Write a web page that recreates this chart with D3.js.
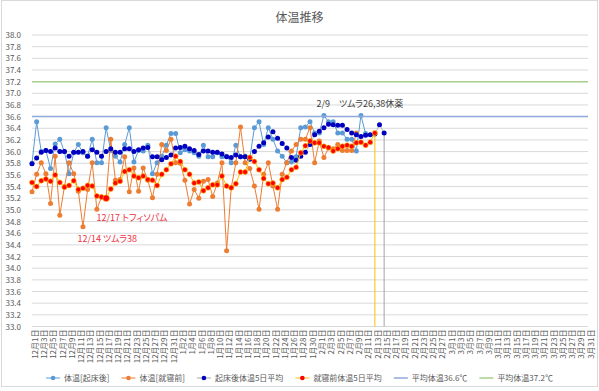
<!DOCTYPE html>
<html><head><meta charset="utf-8">
<script src="https://cdn.jsdelivr.net/npm/d3@7"></script>
<style>
body{margin:0;background:#fff;}
svg text{font-family:"Noto Sans CJK JP","Noto Sans",sans-serif;}
.palt{font-feature-settings:"palt";}
</style></head><body>
<svg id="c" width="599" height="391"></svg>
<script>
// ---------- data ----------
const chartTitle = "体温推移";
const monthLabels = ["12月","1月","2月","3月"];
const monthDays = [31,31,28,31];
const dates = monthLabels.flatMap((m,k)=>d3.range(1,monthDays[k]+1).map(d=>m+d+"日"));
const yTickLabels = ["33.0","33.2","33.4","33.6","33.8","34.0","34.2","34.4","34.6","34.8",
  "35.0","35.2","35.4","35.6","35.8","36.0","36.2","36.4","36.6","36.8",
  "37.0","37.2","37.4","37.6","37.8","38.0"];
const seriesNames = ["体温[起床後]","体温[就寝前]","起床後体温5日平均","就寝前体温5日平均","平均体温36.6℃","平均体温37.2℃"];

const wakeTemp = [35.80,36.51,36.00,36.02,35.71,36.13,36.21,36.00,35.62,35.98,
 36.12,35.98,35.92,36.21,35.81,35.81,36.41,36.02,35.92,35.82,
 36.12,36.41,35.82,36.02,36.01,36.11,35.62,35.81,35.92,36.11,
 36.31,36.31,35.98,36.03,36.01,35.98,35.92,36.11,35.91,35.91,
 35.98,35.91,35.92,35.81,36.11,35.91,35.92,35.88,36.41,36.51,
 36.12,36.41,36.21,36.01,35.92,35.81,35.82,35.91,36.41,36.42,
 36.51,36.32,36.32,36.62,36.51,36.51,36.32,36.32,36.21,36.21,
 36.01,36.62,36.31];
const bedTemp = [35.31,35.61,35.81,35.62,35.11,35.92,34.91,35.40,35.81,35.62,
 35.32,34.71,35.35,35.81,35.01,35.22,35.21,36.21,35.51,35.52,
 35.91,35.31,35.72,35.32,35.72,35.51,35.21,35.61,36.12,36.02,
 36.21,35.81,35.80,35.51,35.10,35.35,35.20,35.49,35.52,35.23,
 35.46,35.81,34.30,35.38,35.81,36.42,35.81,35.71,35.41,35.01,
 35.61,35.81,35.41,35.01,35.61,35.81,36.01,36.12,36.21,36.21,
 36.41,35.81,36.18,35.90,36.06,36.05,36.12,36.02,36.02,36.02,
 36.32];
const wakeAvg5 = [35.79,35.89,35.99,36.02,36.00,36.06,36.00,36.00,35.92,35.99,
 35.99,36.00,35.92,36.03,35.99,35.92,36.00,36.05,35.99,35.99,
 36.05,36.05,36.00,36.03,36.06,36.07,35.91,35.91,35.86,35.90,
 35.94,36.06,36.07,36.09,36.05,36.02,35.95,36.01,36.01,35.99,
 35.99,35.96,35.91,35.90,35.94,35.91,35.91,35.87,36.00,36.09,
 36.15,36.25,36.34,36.23,36.14,36.06,35.90,35.85,35.92,35.99,
 36.12,36.29,36.35,36.41,36.47,36.46,36.45,36.45,36.38,36.32,
 36.29,36.26,36.28,36.29,36.30,36.46,36.32];
const bedAvg5 = [35.47,35.40,35.50,35.53,35.49,35.60,35.47,35.39,35.42,35.50,
 35.35,35.37,35.42,35.41,35.24,35.22,35.20,35.36,35.46,35.49,
 35.66,35.69,35.58,35.55,35.58,35.52,35.51,35.42,35.61,35.69,
 35.79,35.92,35.83,35.69,35.61,35.46,35.48,35.33,35.38,35.43,
 35.43,35.58,35.41,35.38,35.45,35.65,35.65,35.90,35.83,35.69,
 35.54,35.45,35.46,35.38,35.52,35.56,35.69,35.73,35.98,36.10,
 36.18,36.15,36.15,36.09,36.07,36.01,36.05,36.09,36.11,36.09,
 36.15,36.16,36.11,36.16,36.32];
const refTemps = [36.6, 37.2];
const highlightDates = ["12月17日"];
const notes = [
  {text:"2/9　ツムラ26,38休薬", color:"#404040"},
  {text:"12/17 トフィソパム", color:"#ee3344"},
  {text:"12/14 ツムラ38", color:"#ee3344"}
];

// ---------- layout / style ----------
const W=599,H=391;
const L=32,R=588,T=35,B=326.5;
const colors = {wake:"#5B9BD5", bed:"#ED7D31", wakeAvgLine:"#A5A5A5", wakeAvgMark:"#0000C0",
  bedAvgLine:"#FFC000", bedAvgMark:"#FF0000", ref1:"#8FAADC", ref2:"#A9CF8E", text:"#595959", grid:"#D9D9D9"};

const svg = d3.select("#c");
svg.append("rect").attr("x",1.5).attr("y",0.5).attr("width",596).attr("height",386)
  .attr("fill","#fff").attr("stroke","#D9D9D9");

const x = d3.scalePoint().domain(dates).range([L,R]);
const y = d3.scaleLinear().domain([33,38]).range([B,T]);

// grid
svg.append("g").selectAll("line").data(yTickLabels).join("line")
  .attr("x1",L).attr("x2",R).attr("y1",d=>y(+d)).attr("y2",d=>y(+d))
  .attr("stroke",colors.grid).attr("stroke-width",1);

// y axis labels
const yAxis = d3.axisLeft(y).tickValues(yTickLabels.map(Number)).tickFormat(d3.format(".1f")).tickSize(0).tickPadding(11);
const gy = svg.append("g").attr("transform",`translate(${L},0)`).call(yAxis);
gy.select(".domain").remove();
gy.selectAll("text").attr("fill",colors.text).style("font-size","8px").attr("font-family",null);

// x axis labels
const xAxis = d3.axisBottom(x).tickValues(dates.filter((d,i)=>i%2===0)).tickSize(0);
const gx = svg.append("g").attr("transform",`translate(0,${B})`).call(xAxis);
gx.select(".domain").remove();
gx.selectAll("text").attr("fill",colors.text).style("font-size","8px").attr("font-family",null)
  .attr("transform","rotate(-90)").attr("text-anchor","end").attr("x",-3).attr("y",2.4).attr("dy","0.35em");

// series
const line = d3.line().x((d,i)=>x(dates[i])).y(d=>y(d));
function drawSeries(vals, lineColor, markColor, r, lw, markStroke){
  const g = svg.append("g");
  g.append("path").attr("d",line(vals)).attr("fill","none").attr("stroke",lineColor).attr("stroke-width",lw);
  g.selectAll("circle").data(vals).join("circle")
    .attr("cx",(d,i)=>x(dates[i])).attr("cy",d=>y(d))
    .attr("r",(d,i)=> highlightDates.includes(dates[i]) && markColor===colors.bedAvgMark ? 3.3 : r)
    .attr("fill",markColor).attr("stroke",markStroke||"none").attr("stroke-width",0.6);
  return g;
}
drawSeries(wakeTemp, colors.wake, colors.wake, 2.5, 1);
drawSeries(bedTemp, colors.bed, colors.bed, 2.5, 1);
// drop lines at the end of the average series
function dropLine(vals,color){
  const i = vals.length-1;
  svg.append("line").attr("x1",x(dates[i])).attr("x2",x(dates[i])).attr("y1",y(vals[i])).attr("y2",y(33))
    .attr("stroke",color).attr("stroke-width",1);
}
dropLine(wakeAvg5, colors.wakeAvgLine);
drawSeries(wakeAvg5, colors.wakeAvgLine, colors.wakeAvgMark, 2.5, 0.8);
dropLine(bedAvg5, colors.bedAvgLine);
drawSeries(bedAvg5, colors.bedAvgLine, colors.bedAvgMark, 2.5, 1, colors.bedAvgLine);

// reference lines
[colors.ref1, colors.ref2].forEach((c,k)=>{
  svg.append("line").attr("x1",x(dates[0])).attr("x2",x(dates[dates.length-1]))
    .attr("y1",y(refTemps[k])).attr("y2",y(refTemps[k])).attr("stroke",c).attr("stroke-width",1.5);
});

// title
svg.append("text").attr("x",299.5).attr("y",21.5).attr("text-anchor","middle")
  .attr("fill",colors.text).style("font-size","12px").text(chartTitle);

// annotations
const notePos = [[316.5,106.5],[96.5,221],[77.5,241.5]];
notes.forEach((n,k)=>{
  svg.append("text").attr("class","palt").attr("x",notePos[k][0]).attr("y",notePos[k][1])
    .attr("fill",n.color).style("font-size","9px").style("white-space","pre").text(n.text);
});

// legend
const legendDefs = [
  {line:colors.wake, mark:colors.wake},
  {line:colors.bed, mark:colors.bed},
  {line:colors.wakeAvgLine, mark:colors.wakeAvgMark},
  {line:colors.bedAvgLine, mark:colors.bedAvgMark},
  {line:colors.ref1, mark:null},
  {line:colors.ref2, mark:null}
];
const lg = svg.append("g");
const items = seriesNames.map((name,k)=>{
  const g = lg.append("g");
  const t = g.append("text").attr("class","palt").attr("x",18).attr("y",0).attr("dy","0.35em")
    .attr("fill",colors.text).style("font-size","8px").text(name);
  g.append("line").attr("x1",0).attr("x2",14).attr("y1",0).attr("y2",0)
    .attr("stroke",legendDefs[k].line).attr("stroke-width",legendDefs[k].mark?1:1.5);
  if(legendDefs[k].mark) g.append("circle").attr("cx",7).attr("cy",0).attr("r",2.3).attr("fill",legendDefs[k].mark);
  return {g, w: 18 + t.node().getComputedTextLength()};
});
const gap = 12;
const total = d3.sum(items,d=>d.w) + gap*(items.length-1);
let cx = 299.5 - total/2;
items.forEach(it=>{ it.g.attr("transform",`translate(${cx},378)`); cx += it.w + gap; });
</script>
</body></html>
